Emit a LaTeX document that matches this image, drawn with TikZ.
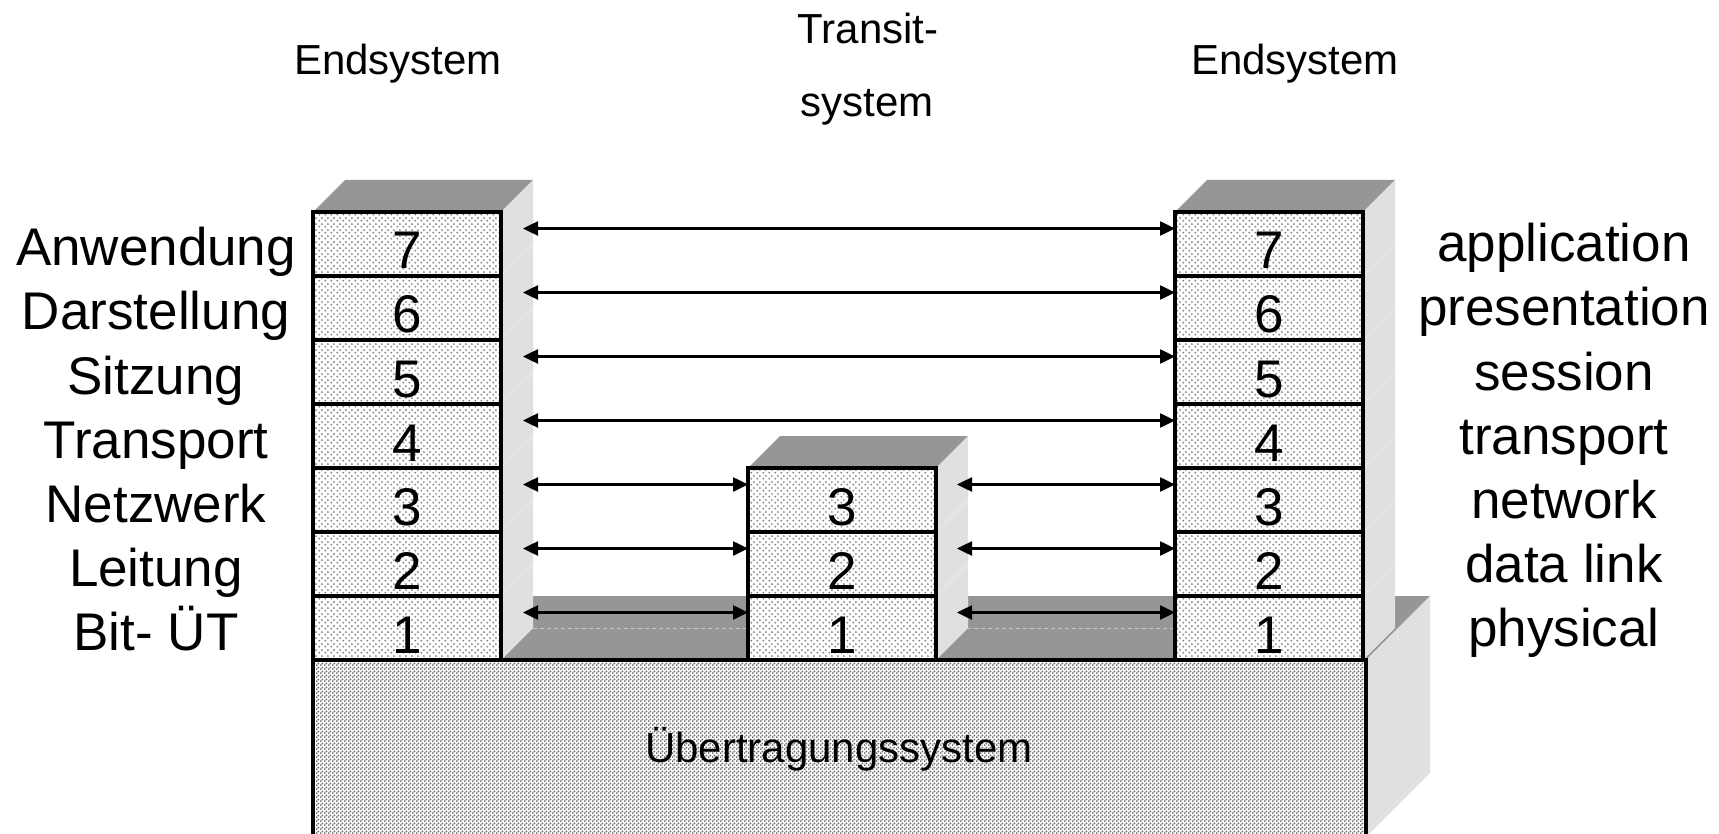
\documentclass[tikz,border=0pt]{standalone}
\usepackage{fontspec}
\setmainfont{Liberation Sans}
\usetikzlibrary{arrows.meta,patterns.meta}

\definecolor{topgray}{HTML}{969696}
\definecolor{sidegray}{HTML}{E0E0E0}
\definecolor{dotgray}{HTML}{8A8A8A}
\definecolor{basedotgray}{HTML}{6E6E6E}

% fine staggered dots for the layer boxes
\tikzdeclarepattern{
  name=layerdots, type=uncolored,
  bounding box={(0pt,0pt) and (6pt,6pt)},
  tile size={(6pt,6pt)},
  code={\fill (1.5pt,1.5pt) circle (1.2pt); \fill (4.5pt,4.5pt) circle (1.2pt);}
}
% denser dots for the transmission system block
\tikzdeclarepattern{
  name=basedots, type=uncolored,
  bounding box={(0pt,0pt) and (4pt,4pt)},
  tile size={(4pt,4pt)},
  code={\fill (1pt,1pt) circle (1.25pt); \fill (3pt,3pt) circle (1.25pt);}
}

% top and right faces of a stack: #1 = left x of front face, #2 = top y
\newcommand{\stackfaces}[2]{%
  \fill[topgray] (#1,#2) -- ++(32,-32) -- ++(188,0) -- ++(-32,32) -- cycle;
  \fill[sidegray] ({#1+188},#2) -- ++(32,-32) -- ({#1+220},628) -- ({#1+188},660) -- cycle;
}
% faint seams on the right face at the layer borders
\newcommand{\sideseams}[3]{%
  \foreach \k in {1,...,#3} {
    \draw[white, line width=0.6pt, opacity=0.6] ({#1+188},{#2+64*\k}) -- ++(32,-32);
  }
}

\begin{document}
\begin{tikzpicture}[x=1pt,y=-1pt,
  layer/.style={draw, line width=4pt, outer sep=0pt, inner sep=0pt,
    minimum width=188pt, minimum height=64pt,
    preaction={fill=white}, pattern=layerdots, pattern color=dotgray,
    font=\fontsize{53}{60}\selectfont, text height=50pt, text depth=0pt},
  osiarrow/.style={{Triangle[length=15pt,width=14pt]}-{Triangle[length=15pt,width=14pt]},
    line width=2.5pt},
  sidelabel/.style={anchor=base, inner sep=0pt, font=\fontsize{53}{60}\selectfont},
  toplabel/.style={anchor=base, inner sep=0pt, font=\fontsize{42}{48}\selectfont}
]
\useasboundingbox (0,0) rectangle (1719,834);
\clip (0,0) rectangle (1719,834);

% transmission system: top face, right face, front face
\fill[topgray] (313,660) -- (377,596) -- (1430,596) -- (1366,660) -- cycle;
\fill[sidegray] (1366,660) -- (1430,596) -- (1430,773) -- (1366,837) -- cycle;
\draw[gray!20, line width=0.7pt] (1397,630) -- (1397,803);
\draw[gray!45, line width=0.7pt, dash pattern=on 4pt off 3pt] (533,628) -- (1175,628);
\node[draw, line width=4pt, outer sep=0pt, inner sep=0pt, anchor=north west,
  minimum width=1053pt, minimum height=190pt,
  preaction={fill=white}, pattern=basedots, pattern color=basedotgray]
  (base) at (313,660) {};
\node[toplabel] (basetext) at (839,762) {Übertragungssystem};

% left end system
\stackfaces{313}{212}
\sideseams{313}{212}{6}
\foreach \n in {1,...,7} {
  \node[layer] (l\n) at (407,{660-64*\n+32}) {\n};
}

% transit system
\stackfaces{748}{468}
\sideseams{748}{468}{2}
\foreach \n in {1,...,3} {
  \node[layer] (m\n) at (842,{660-64*\n+32}) {\n};
}

% right end system
\stackfaces{1175}{212}
\sideseams{1175}{212}{6}
\foreach \n in {1,...,7} {
  \node[layer] (r\n) at (1269,{660-64*\n+32}) {\n};
}

% peer-to-peer connections
\foreach \n in {4,...,7} {
  \coordinate (la\n) at (523,{660-64*\n+16.5});
  \draw[osiarrow] (la\n) -- (la\n -| r\n.west);
}
\foreach \n in {1,...,3} {
  \coordinate (la\n) at (523,{660-64*\n+16.5});
  \coordinate (ma\n) at (957,{660-64*\n+16.5});
  \draw[osiarrow] (la\n) -- (la\n -| m\n.west);
  \draw[osiarrow] (ma\n) -- (ma\n -| r\n.west);
}

% layer names
\foreach \n/\de/\en in {7/Anwendung/application, 6/Darstellung/presentation,
    5/Sitzung/session, 4/Transport/transport, 3/Netzwerk/network,
    2/Leitung/data link, 1/Bit- ÜT/physical} {
  \node[sidelabel] (de\n) at (156,{660-64*\n+54}) {\de};
  \node[sidelabel] (en\n) at (1564,{660-64*\n+50}) {\en};
}

% system headings
\node[toplabel] (endleft) at (398,75) {Endsystem};
\node[toplabel] (transit) at (868,44) {Transit-};
\node[toplabel] (transitb) at (867,117) {system};
\node[toplabel] (endright) at (1295,75) {Endsystem};
\end{tikzpicture}
\end{document}
